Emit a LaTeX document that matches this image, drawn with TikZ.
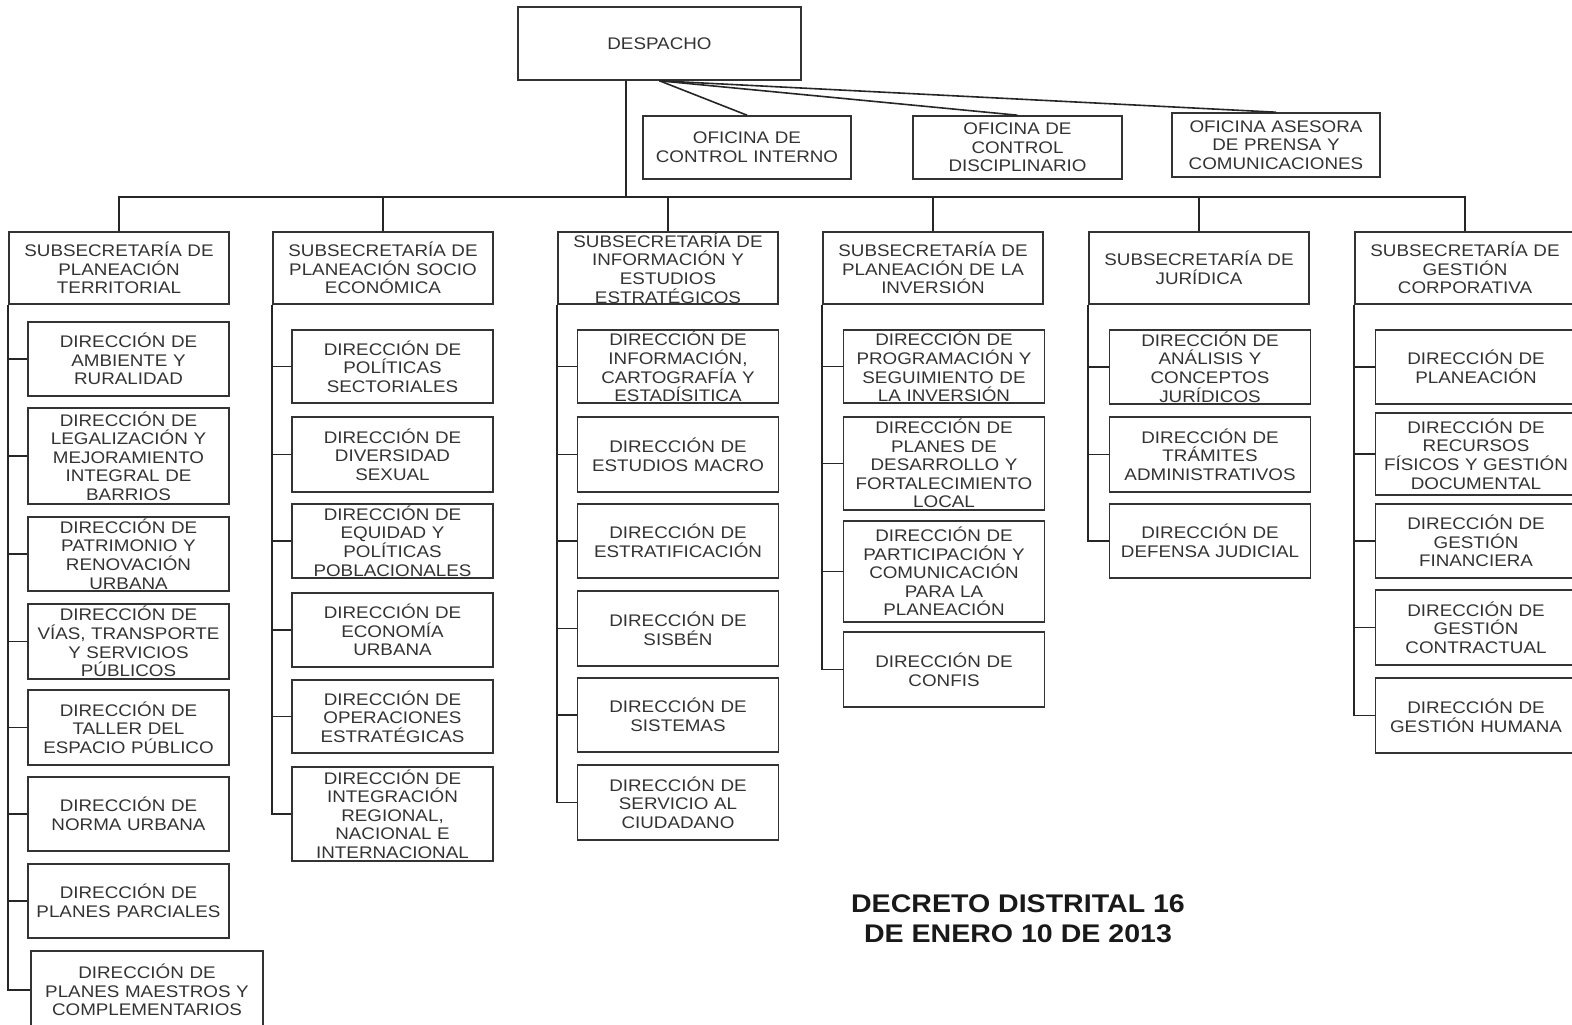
\documentclass[tikz,border=0pt]{standalone}
\usepackage{fontspec}
\setmainfont{Liberation Sans}[FakeStretch=1.12]
\begin{document}
\begin{tikzpicture}
  [x=1pt, y=-1pt,
    font=\fontsize{16.8}{18.6}\selectfont,
    box/.style={%
      rectangle, draw=black!80, line width=1.6pt, text=black!80,
      align=center, inner sep=1pt
    },
    sub/.style={%
      box, text width=218pt, minimum height=72pt
    },
    dir/.style={%
      box, text width=199pt, minimum height=74pt
    },
    link/.style={%
      draw=black!85, line width=1.6pt
    },
    elbow/.style={%
      link, to path={|- (\tikztotarget)}
    },
  ]

  \path[use as bounding box, clip] (0,0) rectangle (1572,1025);

  \node[box, minimum width=283pt, minimum height=73pt] (desp) at (659.5,43.5) {DESPACHO};

  \node[box, text width=206pt, minimum height=63pt] (oci) at (747,147.5) {OFICINA DE\\CONTROL INTERNO};
  \node[box, text width=207pt, minimum height=63pt] (ocd) at (1017.5,147.5) {OFICINA DE\\CONTROL\\DISCIPLINARIO};
  \node[box, text width=206pt, minimum height=64pt] (oca) at (1276,145) {OFICINA ASESORA\\DE PRENSA Y\\COMUNICACIONES};

  \path[link]
  (desp.south) edge (oci.north)
               edge (ocd.north)
               edge (oca.north);

  \node[sub] (s1) at (119,268) {SUBSECRETARÍA DE\\PLANEACIÓN\\TERRITORIAL};
  \node[sub] (s2) at (383,268) {SUBSECRETARÍA DE\\PLANEACIÓN SOCIO\\ECONÓMICA};
  \node[sub] (s3) at (668,268) {SUBSECRETARÍA DE\\INFORMACIÓN Y\\ESTUDIOS\\ESTRATÉGICOS};
  \node[sub] (s4) at (933,268) {SUBSECRETARÍA DE\\PLANEACIÓN DE LA\\INVERSIÓN};
  \node[sub] (s5) at (1199,268) {SUBSECRETARÍA DE\\JURÍDICA};
  \node[sub] (s6) at (1465,268) {SUBSECRETARÍA DE\\GESTIÓN\\CORPORATIVA};

  \coordinate (bus) at (626,197);
  \draw[link] (desp.south -| bus) -- (bus);
  \draw[link] (s1.north) |- (bus) -| (s6.north);
  \draw[link] (s2.north) -- (s2.north |- bus);
  \draw[link] (s3.north) -- (s3.north |- bus);
  \draw[link] (s4.north) -- (s4.north |- bus);
  \draw[link] (s5.north) -- (s5.north |- bus);

  \node[dir] (d11) at (128.5,359) {DIRECCIÓN DE\\AMBIENTE Y\\RURALIDAD};
  \node[dir, minimum height=96pt] (d12) at (128.5,456) {DIRECCIÓN DE\\LEGALIZACIÓN Y\\MEJORAMIENTO\\INTEGRAL DE\\BARRIOS};
  \node[dir] (d13) at (128.5,554) {DIRECCIÓN DE\\PATRIMONIO Y\\RENOVACIÓN\\URBANA};
  \node[dir, minimum height=75pt] (d14) at (128.5,641.5) {DIRECCIÓN DE\\VÍAS, TRANSPORTE\\Y SERVICIOS\\PÚBLICOS};
  \node[dir, minimum height=75pt] (d15) at (128.5,727.5) {DIRECCIÓN DE\\TALLER DEL\\ESPACIO PÚBLICO};
  \node[dir] (d16) at (128.5,814) {DIRECCIÓN DE\\NORMA URBANA};
  \node[dir] (d17) at (128.5,901) {DIRECCIÓN DE\\PLANES PARCIALES};
  \node[dir, text width=230pt, minimum height=78pt] (d18) at (147,990) {DIRECCIÓN DE\\PLANES MAESTROS Y\\COMPLEMENTARIOS};

  \node[dir, minimum height=73pt] (d21) at (392.5,366.5) {DIRECCIÓN DE\\POLÍTICAS\\SECTORIALES};
  \node[dir, minimum height=75pt] (d22) at (392.5,454.5) {DIRECCIÓN DE\\DIVERSIDAD\\SEXUAL};
  \node[dir] (d23) at (392.5,541) {DIRECCIÓN DE\\EQUIDAD Y\\POLÍTICAS\\POBLACIONALES};
  \node[dir] (d24) at (392.5,630) {DIRECCIÓN DE\\ECONOMÍA\\URBANA};
  \node[dir, minimum height=73pt] (d25) at (392.5,716.5) {DIRECCIÓN DE\\OPERACIONES\\ESTRATÉGICAS};
  \node[dir, minimum height=94pt] (d26) at (392.5,814) {DIRECCIÓN DE\\INTEGRACIÓN\\REGIONAL,\\NACIONAL E\\INTERNACIONAL};

  \node[dir, minimum height=73pt] (d31) at (678,366.5) {DIRECCIÓN DE\\INFORMACIÓN,\\CARTOGRAFÍA Y\\ESTADÍSITICA};
  \node[dir, minimum height=75pt] (d32) at (678,454.5) {DIRECCIÓN DE\\ESTUDIOS MACRO};
  \node[dir] (d33) at (678,541) {DIRECCIÓN DE\\ESTRATIFICACIÓN};
  \node[dir, minimum height=75pt] (d34) at (678,628.5) {DIRECCIÓN DE\\SISBÉN};
  \node[dir] (d35) at (678,715) {DIRECCIÓN DE\\SISTEMAS};
  \node[dir, minimum height=75pt] (d36) at (678,802.5) {DIRECCIÓN DE\\SERVICIO AL\\CIUDADANO};

  \node[dir, minimum height=73pt] (d41) at (944,366.5) {DIRECCIÓN DE\\PROGRAMACIÓN Y\\SEGUIMIENTO DE\\LA INVERSIÓN};
  \node[dir, minimum height=93pt] (d42) at (944,463.5) {DIRECCIÓN DE\\PLANES DE\\DESARROLLO Y\\FORTALECIMIENTO\\LOCAL};
  \node[dir, minimum height=101pt] (d43) at (944,571.5) {DIRECCIÓN DE\\PARTICIPACIÓN Y\\COMUNICACIÓN\\PARA LA\\PLANEACIÓN};
  \node[dir, minimum height=75pt] (d44) at (944,669.5) {DIRECCIÓN DE\\CONFIS};

  \node[dir] (d51) at (1210,367) {DIRECCIÓN DE\\ANÁLISIS Y\\CONCEPTOS\\JURÍDICOS};
  \node[dir, minimum height=75pt] (d52) at (1210,454.5) {DIRECCIÓN DE\\TRÁMITES\\ADMINISTRATIVOS};
  \node[dir] (d53) at (1210,541) {DIRECCIÓN DE\\DEFENSA JUDICIAL};

  \node[dir] (d61) at (1476,367) {DIRECCIÓN DE\\PLANEACIÓN};
  \node[dir, minimum height=82pt] (d62) at (1476,454) {DIRECCIÓN DE\\RECURSOS\\FÍSICOS Y GESTIÓN\\DOCUMENTAL};
  \node[dir] (d63) at (1476,541) {DIRECCIÓN DE\\GESTIÓN\\FINANCIERA};
  \node[dir, minimum height=75pt] (d64) at (1476,627.5) {DIRECCIÓN DE\\GESTIÓN\\CONTRACTUAL};
  \node[dir, minimum height=75pt] (d65) at (1476,715.5) {DIRECCIÓN DE\\GESTIÓN HUMANA};

  \path (s1.south west) edge[elbow] (d11.west) edge[elbow] (d12.west)
        edge[elbow] (d13.west) edge[elbow] (d14.west) edge[elbow] (d15.west)
        edge[elbow] (d16.west) edge[elbow] (d17.west) edge[elbow] (d18.west);
  \path (s2.south west) edge[elbow] (d21.west) edge[elbow] (d22.west)
        edge[elbow] (d23.west) edge[elbow] (d24.west) edge[elbow] (d25.west)
        edge[elbow] (d26.west);
  \path (s3.south west) edge[elbow] (d31.west) edge[elbow] (d32.west)
        edge[elbow] (d33.west) edge[elbow] (d34.west) edge[elbow] (d35.west)
        edge[elbow] (d36.west);
  \path (s4.south west) edge[elbow] (d41.west) edge[elbow] (d42.west)
        edge[elbow] (d43.west) edge[elbow] (d44.west);
  \path (s5.south west) edge[elbow] (d51.west) edge[elbow] (d52.west)
        edge[elbow] (d53.west);
  \path (s6.south west) edge[elbow] (d61.west) edge[elbow] (d62.west)
        edge[elbow] (d63.west) edge[elbow] (d64.west) edge[elbow] (d65.west);

  \node[align=center, text=black!90, font=\fontsize{25.5}{30}\selectfont\bfseries]
    (decreto) at (1018,919) {DECRETO DISTRITAL 16\\DE ENERO 10 DE 2013};

\end{tikzpicture}
\end{document}
